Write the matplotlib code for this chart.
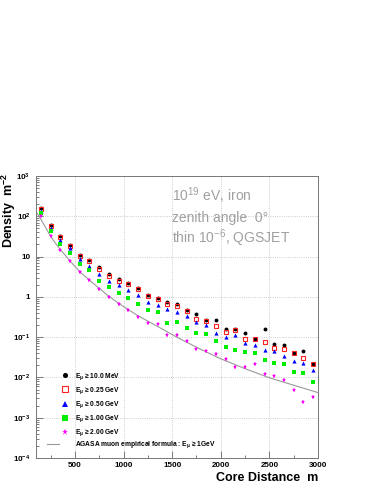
import matplotlib
matplotlib.use('Agg')
import matplotlib.pyplot as plt
from matplotlib.ticker import FixedLocator, MultipleLocator, NullFormatter
from matplotlib.lines import Line2D
import numpy as np

plt.rcParams['font.family'] = ['Liberation Sans', 'DejaVu Sans']
plt.rcParams['mathtext.default'] = 'regular'

# core distance (m)
dist = [150, 250, 350, 450, 550, 650, 750, 850, 950, 1050,
        1150, 1250, 1350, 1450, 1550, 1650, 1750, 1850, 1950, 2050,
        2150, 2250, 2350, 2450, 2550, 2650, 2750, 2850, 2950]

# muon densities (m^-2) for the energy thresholds
d_10mev = [158, 61, 32, 19.8, 10.8, 8.2, 5.4, 3.6, 2.7, 2.2,
           1.66, 1.13, 0.95, 0.74, 0.68, 0.47, 0.37, 0.27, 0.26, 0.157,
           0.163, 0.125, 0.092, 0.157, 0.067, 0.064, 0.040, 0.046, 0.0216]
d_025 = [148, 57, 30, 18.3, 10.2, 7.6, 4.9, 3.3, 2.5, 2.05,
         1.57, 1.05, 0.86, 0.68, 0.59, 0.45, 0.28, 0.255, 0.186, 0.137,
         0.151, 0.089, 0.089, 0.077, 0.055, 0.052, 0.040, 0.030, 0.021]
d_050 = [135, 50, 26, 16.4, 8.9, 5.7, 3.7, 2.5, 2.0, 1.5,
         1.1, 0.75, 0.62, 0.50, 0.41, 0.34, 0.24, 0.20, 0.13, 0.098,
         0.11, 0.070, 0.063, 0.049, 0.045, 0.034, 0.025, 0.023, 0.0153]
d_100 = [122, 44, 21, 12.3, 6.4, 4.6, 2.5, 1.76, 1.27, 0.96,
         0.67, 0.46, 0.41, 0.23, 0.24, 0.17, 0.13, 0.122, 0.080, 0.057,
         0.047, 0.042, 0.040, 0.027, 0.023, 0.021, 0.014, 0.013, 0.0079]
d_200 = [100, 32, 14.6, 7.6, 4.1, 2.6, 1.54, 0.98, 0.66, 0.47,
         0.31, 0.23, 0.21, 0.11, 0.113, 0.080, 0.05, 0.045, 0.038, 0.029,
         0.018, 0.018, 0.022, 0.012, 0.0107, 0.0087, 0.0049, 0.0025, 0.0032]

# AGASA empirical curve
agasa_r = [110, 150, 200, 250, 300, 350, 450, 550, 650, 750, 850, 950, 1050,
           1150, 1250, 1350, 1450, 1600, 1800, 2000, 2250, 2500, 2750, 3000]
agasa_d = [120, 85, 52, 32, 21.5, 15, 7.8, 4.2, 2.6, 1.63, 1.03, 0.69, 0.48,
           0.34, 0.25, 0.185, 0.135, 0.086, 0.049, 0.029, 0.0165, 0.0098,
           0.0064, 0.0042]

labels = ['E$_{\\mu}$ ≥ 10.0 MeV', 'E$_{\\mu}$ ≥ 0.25 GeV', 'E$_{\\mu}$ ≥ 0.50 GeV',
          'E$_{\\mu}$ ≥ 1.00 GeV', 'E$_{\\mu}$ ≥ 2.00 GeV']
ytick_vals = [1e-4, 1e-3, 1e-2, 1e-1, 1, 10, 1e2, 1e3]
ytick_labels = ['10$^{-4}$', '10$^{-3}$', '10$^{-2}$', '10$^{-1}$', '1', '10',
                '10$^{2}$', '10$^{3}$']

fig = plt.figure(figsize=(3.82, 4.94), dpi=100)
ax = fig.add_axes([0.0942, 0.0729, 0.7383, 0.5708])
ax.set_yscale('log')
ax.set_xlim(100, 3000)
ax.set_ylim(1e-4, 1e3)

ax.grid(True, which='major', color='#bbbbbb', linestyle=':', linewidth=0.6)
ax.set_axisbelow(True)

ax.plot(agasa_r, agasa_d, color='#999999', lw=0.8, zorder=2)

s1, = ax.plot(dist, d_10mev, 'o', color='black', ms=2.8, mew=0, zorder=3)
s2, = ax.plot(dist, d_025, 's', mfc='none', mec='#ff2020', ms=3.4, mew=0.8, zorder=3)
s3, = ax.plot(dist, d_050, '^', color='#0000ff', ms=3.0, mew=0, zorder=3)
s4, = ax.plot(dist, d_100, 's', color='#00ee00', ms=3.0, mew=0, zorder=3)
s5, = ax.plot(dist, d_200, '*', color='#ff00ff', ms=3.6, mew=0, zorder=3)

ax.set_yticks(ytick_vals)
ax.set_yticklabels(ytick_labels)
ax.yaxis.set_minor_locator(FixedLocator([m * 10.0**e for e in range(-4, 3) for m in range(2, 10)]))
ax.yaxis.set_minor_formatter(NullFormatter())
ax.set_xticks([500, 1000, 1500, 2000, 2500, 3000])
ax.xaxis.set_minor_locator(MultipleLocator(250))

ax.tick_params(axis='both', which='both', direction='in', colors='#666666',
               labelcolor='black', width=0.6)
ax.tick_params(axis='both', which='major', length=5)
ax.tick_params(axis='both', which='minor', length=2.5)
ax.tick_params(axis='y', which='major', pad=4)
ax.tick_params(axis='x', which='major', pad=3)
for lab in ax.get_xticklabels() + ax.get_yticklabels():
    lab.set_fontsize(5.8)
    lab.set_fontweight('bold')
for sp in ax.spines.values():
    sp.set_color('#777777')
    sp.set_linewidth(0.7)

ax.set_ylabel('Density  m$^{-2}$', fontsize=9, fontweight='bold', loc='top')
ax.yaxis.set_label_coords(-0.064, 1.01)
ax.set_xlabel('Core Distance  m', fontsize=9, fontweight='bold', loc='right')
ax.xaxis.set_label_coords(1.0, -0.05)

txt = dict(transform=ax.transAxes, fontsize=10, color='#a0a0a0', va='center', ha='left')
ax.text(0.484, 0.931, '10$^{19}$ eV, iron', **txt)
ax.text(0.484, 0.851, 'zenith angle  0°', **txt)
ax.text(0.484, 0.780, 'thin 10$^{-6}$, QGSJET', **txt)

leg1 = ax.legend([s1, s2, s3, s4, s5], labels, loc='center left',
                 bbox_to_anchor=(0.087, 0.189), frameon=False,
                 prop={'size': 4.8, 'weight': 'bold'}, handlelength=1.2,
                 handletextpad=1.0, labelspacing=0.5, borderpad=0,
                 borderaxespad=0, markerscale=1.3)
ax.add_artist(leg1)
line_h = Line2D([], [], color='#999999', lw=0.8)
ax.legend([line_h], ['AGASA muon empirical formula : E$_{\\mu}$ ≥ 1GeV'],
          loc='center left', bbox_to_anchor=(0.039, 0.046), frameon=False,
          prop={'size': 4.8, 'weight': 'bold'}, handlelength=1.8,
          handletextpad=2.4, borderpad=0, borderaxespad=0)

fig.savefig('out.png', dpi=100)
